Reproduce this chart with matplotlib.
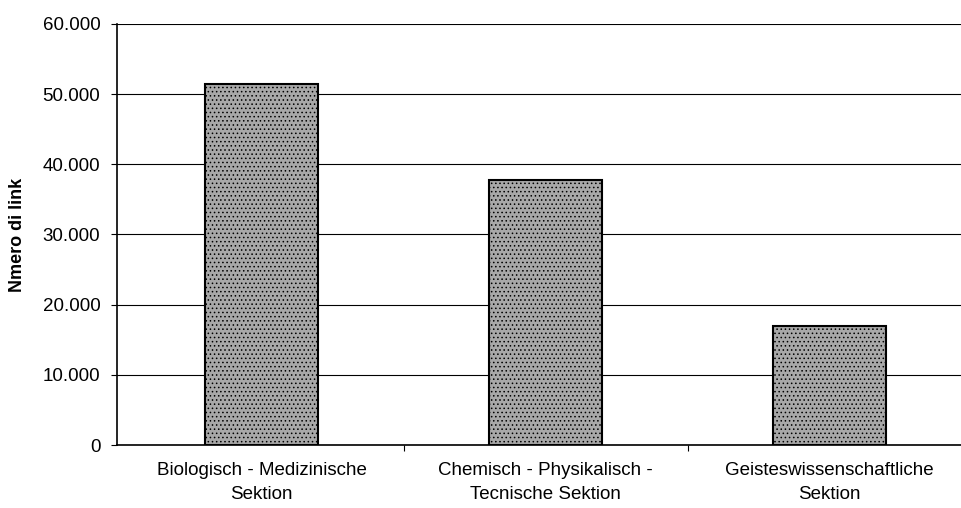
import matplotlib.pyplot as plt
from matplotlib.ticker import FuncFormatter

categories = ["Biologisch - Medizinische\nSektion",
              "Chemisch - Physikalisch -\nTecnische Sektion",
              "Geisteswissenschaftliche\nSektion"]
links = [51400, 37800, 16900]
yticks = [0, 10000, 20000, 30000, 40000, 50000, 60000]

plt.rcParams['font.family'] = ['Liberation Sans', 'DejaVu Sans']
plt.rcParams['hatch.color'] = '#6e6e6e'
plt.rcParams['hatch.linewidth'] = 0.6

fig = plt.figure(figsize=(9.62, 5.08), dpi=100)
ax = fig.add_axes([0.1216, 0.124, 0.8784, 0.829])

x = range(len(categories))
ax.bar(x, links, width=0.40, color='#a8a8a8', edgecolor='black',
       linewidth=1.5, hatch='....', zorder=3)

ax.set_ylim(0, 60000)
ax.set_xlim(-0.509, 2.466)
ax.set_yticks(yticks)
ax.yaxis.set_major_formatter(FuncFormatter(lambda v, p: "0" if v == 0 else f"{int(v):,}".replace(",", ".")))
ax.set_xticks(list(x))
ax.set_xticks([0.5, 1.5], minor=True)
ax.set_xticklabels(categories, fontsize=13.5, linespacing=1.55)
ax.tick_params(axis='y', labelsize=13.5, length=4, width=0.8, pad=8)
ax.tick_params(axis='x', which='major', length=0, pad=12)
ax.tick_params(axis='x', which='minor', length=4, width=0.8)
ax.set_ylabel("Nmero di link", fontsize=13, fontweight='bold', labelpad=12)

ax.grid(axis='y', color='black', linewidth=0.8, zorder=0)
for s in ['top', 'right']:
    ax.spines[s].set_visible(False)
ax.spines['left'].set_linewidth(1.2)
ax.spines['bottom'].set_linewidth(1.2)

plt.savefig("out.png", dpi=100)
